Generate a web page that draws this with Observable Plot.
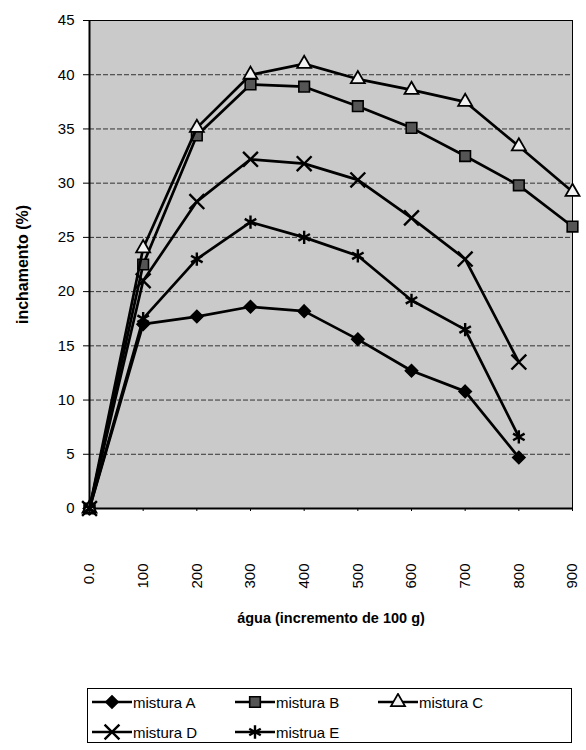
<!DOCTYPE html>
<html>
<head>
<meta charset="utf-8">
<script src="https://cdn.jsdelivr.net/npm/d3@7"></script>
<script src="https://cdn.jsdelivr.net/npm/@observablehq/plot@0.6"></script>
<style>
  body { margin: 0; background: #fff; font-family: Arial, "Liberation Sans", sans-serif; }
  #chart { width: 586px; }
  .legend { position: absolute; left: 87px; top: 688px; width: 485px; height: 55px; border: 1px solid #000; box-sizing: border-box; font: 15px Arial, "Liberation Sans", sans-serif; }
  .row { position: absolute; left: 4px; height: 20px; display: flex; align-items: center; }
  .item { display: flex; align-items: center; }
  .item svg { display: block; }
</style>
</head>
<body>
<div id="chart"></div>
<div class="legend" id="legend"></div>
<script>
const agua = ["0.0", "100", "200", "300", "400", "500", "600", "700", "800", "900"];
const misturaA = [0, 17.0, 17.7, 18.6, 18.2, 15.6, 12.7, 10.8, 4.7, null];
const misturaB = [0, 22.5, 34.4, 39.1, 38.9, 37.1, 35.1, 32.5, 29.8, 26.0];
const misturaC = [0, 24.0, 35.1, 40.0, 41.0, 39.6, 38.6, 37.5, 33.4, 29.2];
const misturaD = [0, 21.0, 28.3, 32.2, 31.8, 30.3, 26.8, 23.0, 13.5, null];
const mistruaE = [0, 17.5, 23.0, 26.4, 25.0, 23.3, 19.2, 16.5, 6.6, null];
const seriesNames = ["mistura A", "mistura B", "mistura C", "mistura D", "mistrua E"];
const yTicks = [0, 5, 10, 15, 20, 25, 30, 35, 40, 45];

const seriesValues = [misturaA, misturaB, misturaC, misturaD, mistruaE];
const symbols = {
  "mistura A": {symbol: "diamond2", fill: "#000", stroke: "#000", r: 5.6, sw: 1.5},
  "mistura B": {symbol: "square", fill: "#555", stroke: "#000", r: 6, sw: 1.6},
  "mistura C": {symbol: "triangle", fill: "#f2f2f2", stroke: "#000", r: 5.2, sw: 1.8},
  "mistura D": {symbol: "times", fill: "none", stroke: "#000", r: 6.8, sw: 2.4},
  "mistrua E": {symbol: "asterisk", fill: "none", stroke: "#000", r: 6.3, sw: 2.4}
};

const rows = [];
seriesNames.forEach((name, i) => {
  seriesValues[i].forEach((v, j) => {
    if (v != null) rows.push({serie: name, agua: agua[j], v});
  });
});

const marks = [
  Plot.frame({fill: "#cacaca", stroke: "#000", strokeWidth: 1}),
  Plot.gridY(yTicks.filter(t => t > 0 && t < 45), {stroke: "#222", strokeOpacity: 0.9, strokeDasharray: "5,2"}),
  Plot.axisY({ticks: yTicks, tickSize: 6, tickPadding: 9, fontSize: 15, label: null}),
  Plot.axisX({tickSize: 3, tickFormat: () => "", label: null}),
  Plot.text(agua, {x: d => d, frameAnchor: "bottom", dy: 55, rotate: -90, textAnchor: "end", lineAnchor: "middle", fontSize: 15, text: d => d}),
  Plot.text(["água (incremento de 100 g)"], {frameAnchor: "bottom", dy: 114, fontSize: 14.5, fontWeight: "bold", text: d => d}),
  Plot.text(["inchamento (%)"], {frameAnchor: "left", dx: -67, rotate: -90, textAnchor: "middle", fontSize: 16, fontWeight: "bold", text: d => d}),
  Plot.ruleX([agua[0]], {stroke: "#000", strokeWidth: 2}),
  Plot.ruleY([0], {stroke: "#000", strokeWidth: 2}),
];
seriesNames.forEach(name => {
  const data = rows.filter(d => d.serie === name);
  const s = symbols[name];
  marks.push(Plot.line(data, {x: "agua", y: "v", stroke: "#000", strokeWidth: 2.7}));
  marks.push(Plot.dot(data, {x: "agua", y: "v", symbol: () => s.symbol, r: s.r, fill: s.fill, stroke: s.stroke, strokeWidth: s.sw}));
});

const chart = Plot.plot({
  width: 586,
  height: 660,
  marginTop: 20,
  marginLeft: 89,
  marginRight: 14,
  marginBottom: 152,
  style: {fontFamily: "Arial, 'Liberation Sans', sans-serif", color: "#000", background: "#fff"},
  x: {type: "point", domain: agua, padding: 0, round: false},
  y: {domain: [0, 45]},
  symbol: {type: "identity"},
  marks
});
document.getElementById("chart").appendChild(chart);

// legend
function swatch(name) {
  const s = symbols[name];
  const w = 40, h = 18;
  const svg = d3.create("svg").attr("width", w).attr("height", h);
  svg.append("line").attr("x1", 0).attr("x2", w).attr("y1", h / 2).attr("y2", h / 2).attr("stroke", "#000").attr("stroke-width", 2.4);
  const symMap = {diamond2: d3.symbolDiamond2, square: d3.symbolSquare, triangle: d3.symbolTriangle, times: d3.symbolTimes, asterisk: d3.symbolAsterisk};
  svg.append("path").attr("transform", `translate(${w / 2},${h / 2})`)
    .attr("d", d3.symbol(symMap[s.symbol], s.r * s.r * Math.PI)())
    .attr("fill", s.fill).attr("stroke", s.stroke).attr("stroke-width", s.sw);
  return svg.node();
}
const legend = document.getElementById("legend");
const legendRows = [[seriesNames[0], seriesNames[1], seriesNames[2]], [seriesNames[3], seriesNames[4]]];
const rowTops = [3, 33];
const itemWidths = [143, 143, 140];
legendRows.forEach((r, ri) => {
  const row = document.createElement("div");
  row.className = "row";
  row.style.top = rowTops[ri] + "px";
  r.forEach((name, k) => {
    const it = document.createElement("div");
    it.className = "item";
    it.style.width = itemWidths[k] + "px";
    it.appendChild(swatch(name));
    const t = document.createElement("span");
    t.textContent = name;
    t.style.marginLeft = "1px";
    it.appendChild(t);
    row.appendChild(it);
  });
  legend.appendChild(row);
});
</script>
</body>
</html>
